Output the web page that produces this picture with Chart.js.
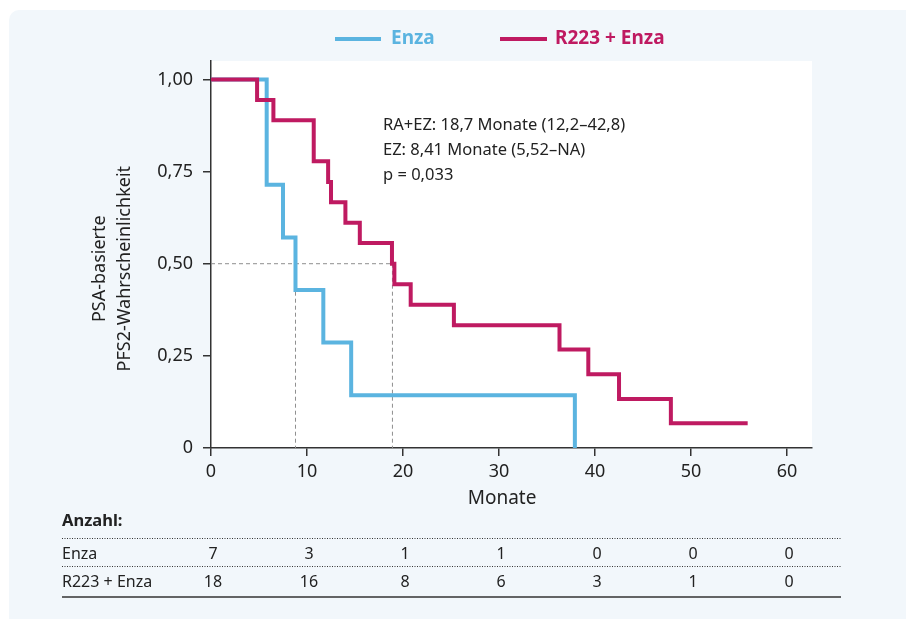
<!DOCTYPE html>
<html>
<head>
<meta charset="utf-8">
<script src="https://cdn.jsdelivr.net/npm/chart.js@4.4.0/dist/chart.umd.min.js"></script>
<style>
  html, body { margin: 0; padding: 0; background: #fff; overflow: hidden; }
  #wrap { width: 906px; height: 619px; position: relative; }
</style>
</head>
<body>
<div id="wrap"><canvas id="kmChart"></canvas></div>
<script>
// Kaplan-Meier Kurven (Monate, Wahrscheinlichkeit nach dem Ereignis)
const enzaTimes = [0, 5.8, 7.5, 8.8, 11.7, 14.6, 37.9];
const enzaSurv  = [1, 0.714, 0.571, 0.429, 0.286, 0.143, 0];

const comboTimes = [0, 4.8, 6.5, 10.7, 12.2, 12.5, 14.0, 15.5, 18.85, 19.1, 20.8, 25.3, 36.3, 39.3, 42.5, 47.9, 55.9];
const comboSurv  = [1, 0.944, 0.889, 0.778, 0.722, 0.667, 0.611, 0.556, 0.5, 0.444, 0.389, 0.333, 0.267, 0.2, 0.133, 0.067, 0.067];

// Mediane (gestrichelte Hilfslinien)
const medianLevel = 0.5;
const medianTimes = [8.8, 18.9];

const seriesNames = ['Enza', 'R223 + Enza'];
const yTicks = [0, 0.25, 0.5, 0.75, 1];
const xTicks = [0, 10, 20, 30, 40, 50, 60];

// Anzahl unter Risiko
const riskEnza  = [7, 3, 1, 1, 0, 0, 0];
const riskCombo = [18, 16, 8, 6, 3, 1, 0];

const annotationLines = [
  'RA+EZ: 18,7 Monate (12,2–42,8)',
  'EZ: 8,41 Monate (5,52–NA)',
  'p = 0,033'
];

const blue = '#5bb4e0';
const red = '#bf1a61';
const FONT = "'Noto Sans', sans-serif";

function toPoints(xs, ys) {
  return xs.map((x, i) => ({ x: x, y: ys[i] }));
}

const dashStyle = {
  borderColor: '#8f8f8f',
  borderWidth: 1,
  borderDash: [4, 3],
  pointRadius: 0,
  fill: false,
  order: 3
};

const datasets = [
  {
    label: seriesNames[1],
    data: toPoints(comboTimes, comboSurv),
    borderColor: red,
    borderWidth: 4,
    stepped: true,
    pointRadius: 0,
    fill: false,
    order: 1
  },
  {
    label: seriesNames[0],
    data: toPoints(enzaTimes, enzaSurv),
    borderColor: blue,
    borderWidth: 4,
    stepped: true,
    pointRadius: 0,
    fill: false,
    order: 2
  },
  Object.assign({ label: 'median', data: [{ x: 0, y: medianLevel }, { x: medianTimes[1], y: medianLevel }] }, dashStyle),
  Object.assign({ label: 'median', data: [{ x: medianTimes[0], y: medianLevel }, { x: medianTimes[0], y: 0 }] }, dashStyle),
  Object.assign({ label: 'median', data: [{ x: medianTimes[1], y: medianLevel }, { x: medianTimes[1], y: 0 }] }, dashStyle)
];

// Hintergrund, Legende, Titel, Text und Tabelle
const decorPlugin = {
  id: 'decor',
  beforeDraw(chart) {
    const ctx = chart.ctx;
    const a = chart.chartArea;
    ctx.save();
    ctx.fillStyle = '#ffffff';
    ctx.fillRect(0, 0, chart.width, chart.height);
    ctx.fillStyle = '#f2f7fb';
    ctx.beginPath();
    ctx.roundRect(9, 10, chart.width + 20, chart.height + 20, 10);
    ctx.fill();
    ctx.fillStyle = '#ffffff';
    ctx.fillRect(a.left, a.top, a.right - a.left, a.bottom - a.top);
    ctx.restore();
  },
  afterDraw(chart) {
    const ctx = chart.ctx;
    const xs = chart.scales.x;
    const ys = chart.scales.y;
    ctx.save();

    // Legende
    const legend = [
      { name: seriesNames[0], color: blue, x0: 335, x1: 381, tx: 391 },
      { name: seriesNames[1], color: red, x0: 500, x1: 547, tx: 555 }
    ];
    ctx.lineWidth = 4;
    ctx.font = 'bold 19px ' + FONT;
    ctx.textBaseline = 'middle';
    ctx.textAlign = 'left';
    legend.forEach(l => {
      ctx.strokeStyle = l.color;
      ctx.beginPath();
      ctx.moveTo(l.x0, 39);
      ctx.lineTo(l.x1, 39);
      ctx.stroke();
      ctx.fillStyle = l.color;
      ctx.fillText(l.name, l.tx, 39);
    });

    // Achsentitel
    ctx.fillStyle = '#222';
    ctx.font = '19px ' + FONT;
    ctx.textAlign = 'center';
    const midX = (xs.getPixelForValue(0) + xs.getPixelForValue(60)) / 2;
    ctx.fillText('Monate', midX + 3, 499);
    const midY = (ys.getPixelForValue(0) + ys.getPixelForValue(1)) / 2;
    ctx.font = '18px ' + FONT;
    ctx.save();
    ctx.translate(100, midY + 5);
    ctx.rotate(-Math.PI / 2);
    ctx.fillText('PSA-basierte', 0, 0);
    ctx.fillText('PFS2-Wahrscheinlichkeit', 0, 25);
    ctx.restore();

    // Text im Diagramm
    ctx.textAlign = 'left';
    ctx.font = '16.5px ' + FONT;
    annotationLines.forEach((t, i) => {
      ctx.fillText(t, chart.chartArea.left + 172, 125 + i * 25);
    });

    // Tabelle
    const tl = 62, tr = 841;
    ctx.font = 'bold 16.5px ' + FONT;
    ctx.fillText('Anzahl:', tl, 521);
    ctx.strokeStyle = '#333';
    ctx.lineWidth = 1;
    ctx.setLineDash([1, 1.5]);
    [538.5, 566.5].forEach(y => {
      ctx.beginPath();
      ctx.moveTo(tl, y);
      ctx.lineTo(tr, y);
      ctx.stroke();
    });
    ctx.setLineDash([]);
    ctx.lineWidth = 1.5;
    ctx.beginPath();
    ctx.moveTo(tl, 597);
    ctx.lineTo(tr, 597);
    ctx.stroke();

    ctx.font = '16px ' + FONT;
    ctx.fillText(seriesNames[0], tl, 554);
    ctx.fillText(seriesNames[1], tl, 582);
    ctx.textAlign = 'center';
    xTicks.forEach((t, i) => {
      const px = xs.getPixelForValue(t) + 2;
      ctx.fillText(String(riskEnza[i]), px, 554);
      ctx.fillText(String(riskCombo[i]), px, 582);
    });
    ctx.restore();
  }
};

Chart.defaults.font.family = FONT;
Chart.defaults.font.size = 18;
Chart.defaults.color = '#222';

new Chart(document.getElementById('kmChart'), {
  type: 'line',
  data: { datasets: datasets },
  options: {
    responsive: true,
    maintainAspectRatio: false,
    animation: false,
    layout: { padding: { top: 61, right: 94, bottom: 0, left: 0 } },
    plugins: {
      legend: { display: false },
      tooltip: { enabled: false }
    },
    scales: {
      x: {
        type: 'linear',
        min: 0,
        max: 62.6,
        afterFit: s => { s.height = 171; },
        afterBuildTicks: s => { s.ticks = xTicks.map(v => ({ value: v })); },
        ticks: { padding: 5, font: { size: 18 }, maxRotation: 0 },
        grid: { drawOnChartArea: false, drawTicks: true, tickLength: 8, color: '#333', lineWidth: 1.5 },
        border: { display: true, color: '#333', width: 1.5 }
      },
      y: {
        type: 'linear',
        min: 0,
        max: 1.05,
        afterFit: s => { s.width = 211; },
        afterBuildTicks: s => { s.ticks = yTicks.map(v => ({ value: v })); },
        ticks: {
          padding: 10,
          font: { size: 18 },
          callback: v => v === 0 ? '0' : v.toFixed(2).replace('.', ',')
        },
        grid: { drawOnChartArea: false, drawTicks: true, tickLength: 8, color: '#333', lineWidth: 1.5 },
        border: { display: true, color: '#333', width: 1.5 }
      }
    }
  },
  plugins: [decorPlugin]
});
</script>
</body>
</html>
